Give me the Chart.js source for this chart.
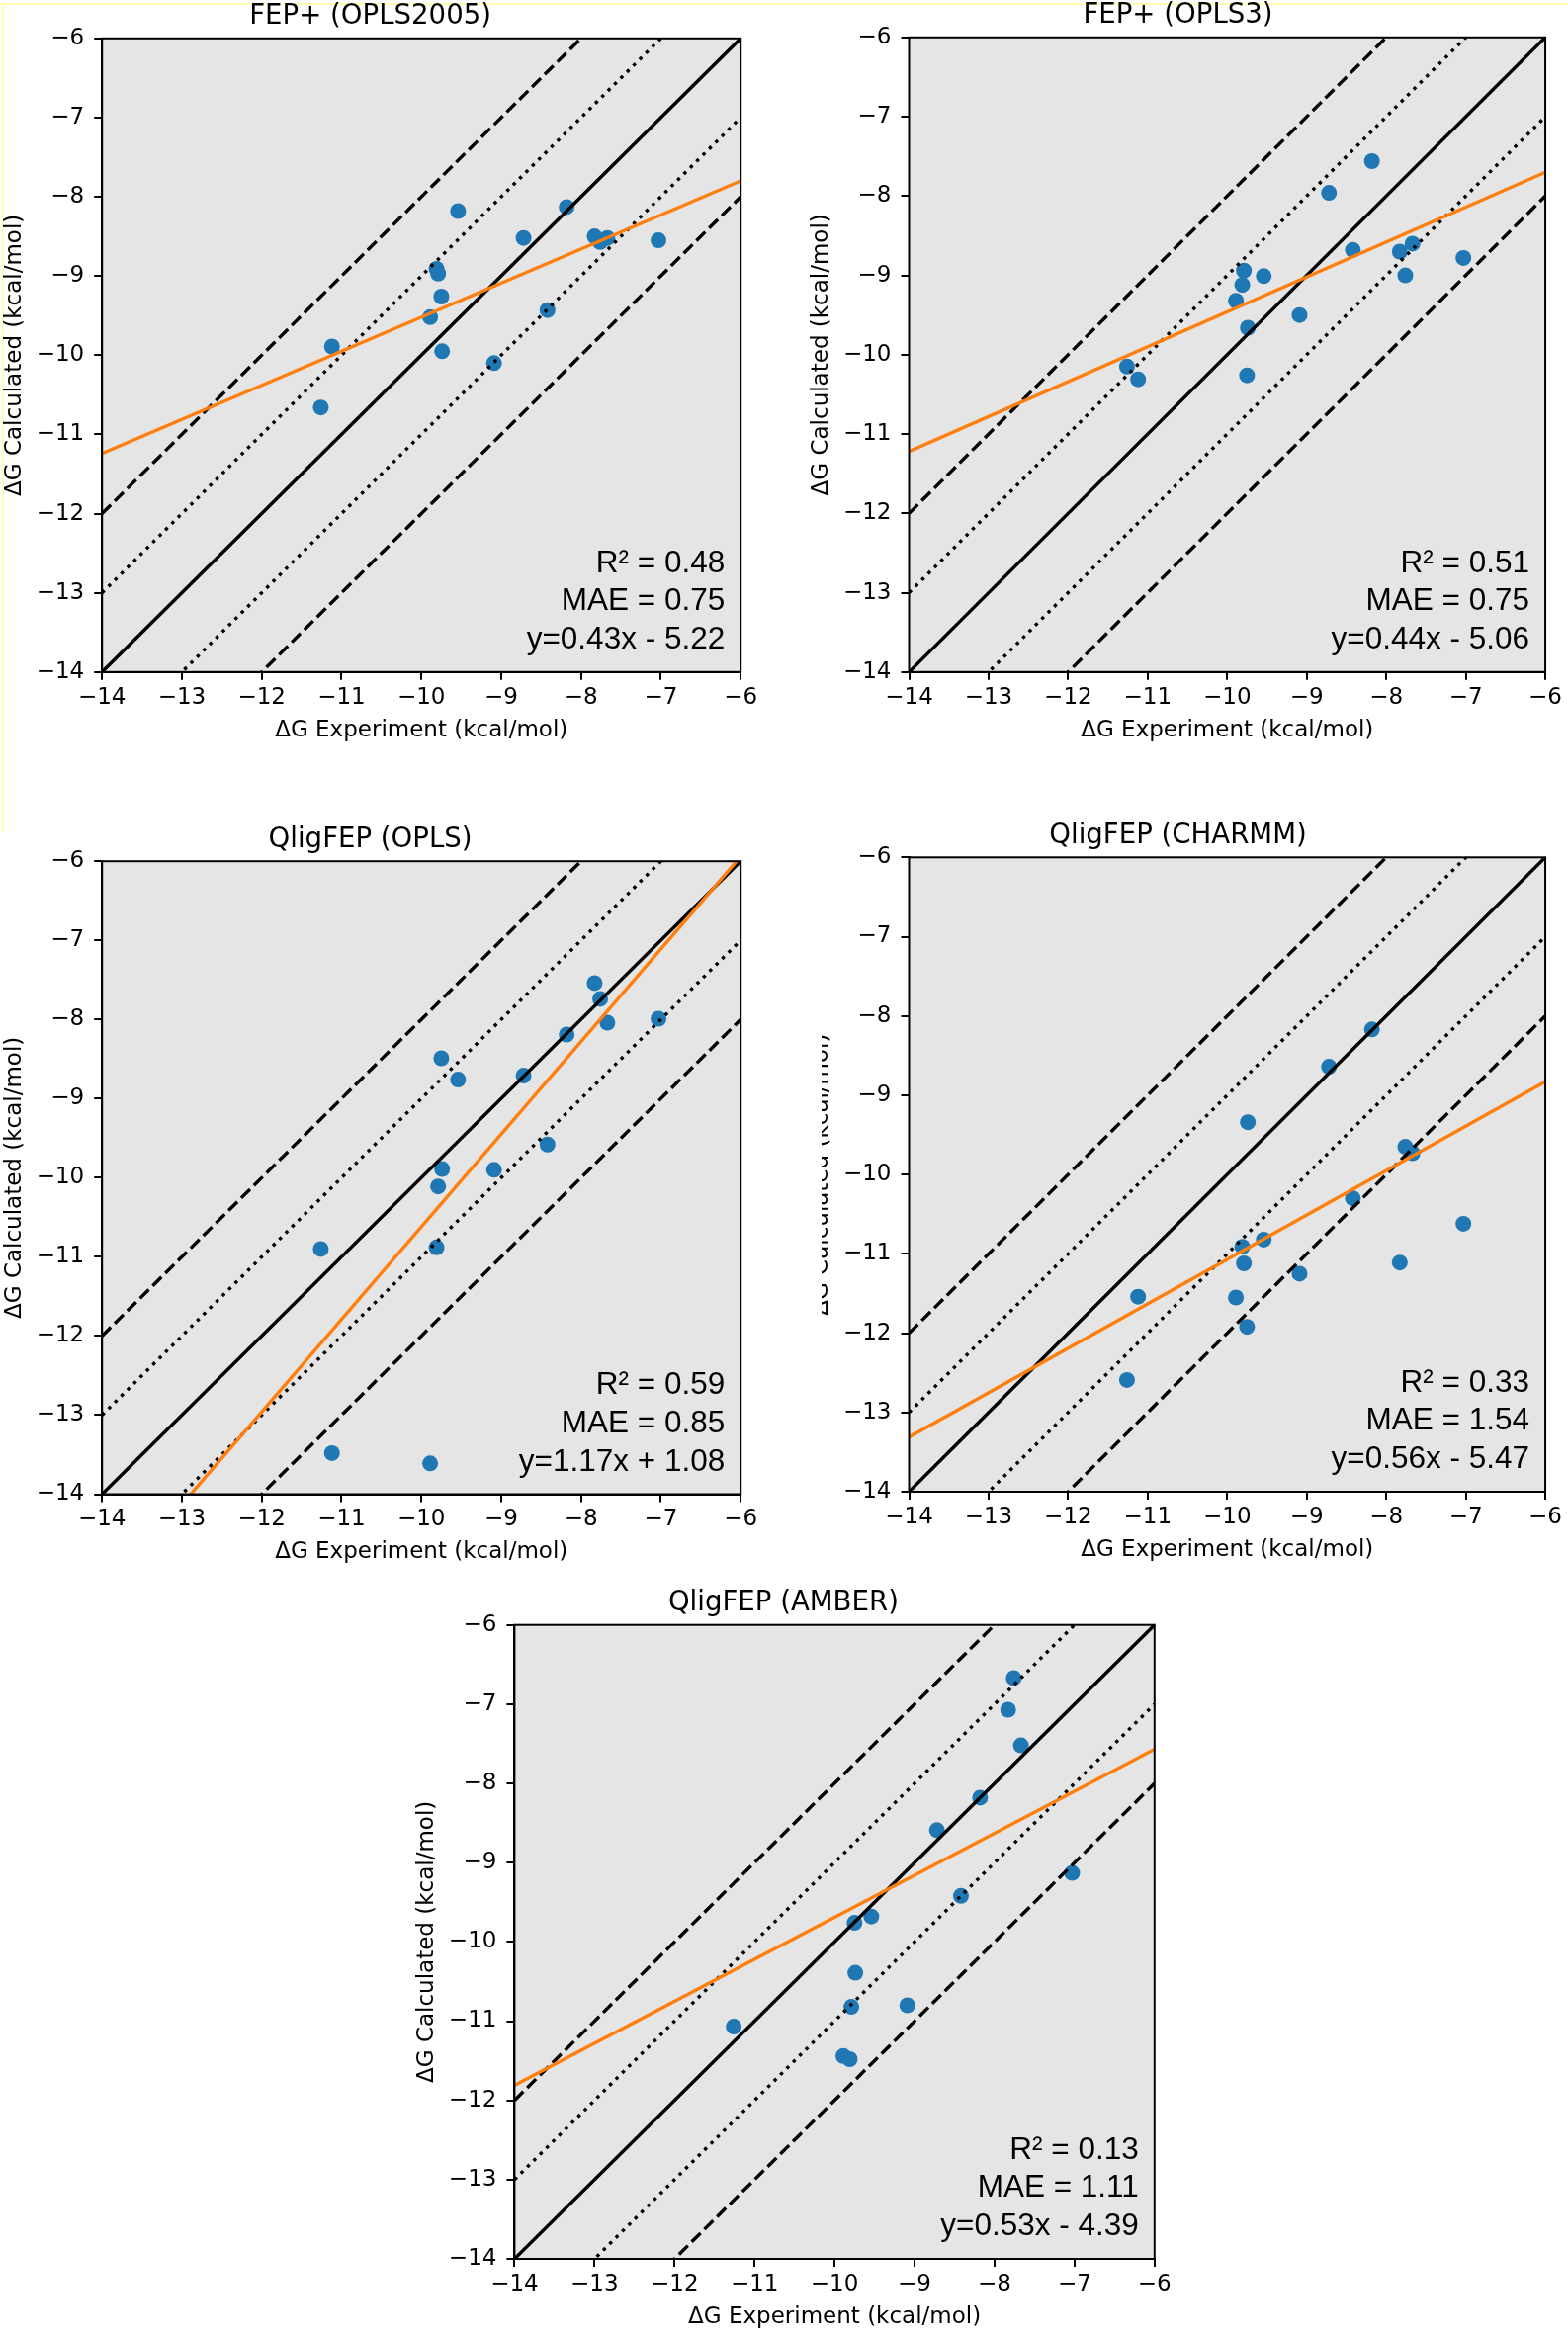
<!DOCTYPE html>
<html>
<head>
<meta charset="utf-8">
<script src="https://cdn.jsdelivr.net/npm/chart.js@4.4.0/dist/chart.umd.min.js"></script>
<style>
  html, body { margin: 0; padding: 0; background: #fff; }
  body { position: relative; width: 1586px; height: 2362px; overflow: hidden; }
  canvas { position: absolute; }
  .edge { position: absolute; background: #ffffb0; }
</style>
</head>
<body>
<div class="edge" style="left:0;top:3px;width:1586px;height:2px"></div>
<div class="edge" style="left:2px;top:3px;width:2px;height:840px"></div>
<script>
// Experimental dG (kcal/mol), same ligand order in every panel
const expDG = [-11.26, -11.12, -9.89, -9.81, -9.79, -9.75, -9.74, -9.54, -9.09, -8.72, -8.42, -8.18, -7.83, -7.76, -7.67, -7.03];

// Calculated dG per method (null = not shown)
const calcOPLS2005 = [-10.66, -9.89, -9.52, -8.91, -8.97, -9.26, -9.95, -8.18, -10.10, -8.52, -9.43, -8.13, -8.50, -8.57, -8.52, -8.55];
const calcOPLS3    = [-10.15, -10.31, -9.32, -9.12, -8.94, -10.26, -9.66, -9.01, -9.50, -7.96, -8.68, -7.56, -8.70, -9.00, -8.60, -8.78];
const calcQOPLS    = [-10.90, -13.48, -13.61, -10.88, -10.11, -8.49, -9.89, -8.76, -9.90, -8.71, -9.58, -8.19, -7.54, -7.74, -8.04, -7.99];
const calcQCHARMM  = [-12.59, -11.54, -11.55, -10.91, -11.12, -11.92, -9.34, -10.82, -11.25, -8.64, -10.30, -8.17, -11.11, -9.65, -9.73, -10.62];
const calcQAMBER   = [-11.07, null, -11.44, -11.48, -10.82, -9.76, -10.39, -9.68, -10.80, -8.59, -9.42, -8.18, -7.07, -6.67, -7.52, -9.13];

const panelTitles = ['FEP+ (OPLS2005)', 'FEP+ (OPLS3)', 'QligFEP (OPLS)', 'QligFEP (CHARMM)', 'QligFEP (AMBER)'];
const r2Values = [0.48, 0.51, 0.59, 0.33, 0.13];
const maeValues = [0.75, 0.75, 0.85, 1.54, 1.11];
const fitSlopes = [0.43, 0.44, 1.17, 0.56, 0.53];
const fitIntercepts = [-5.22, -5.06, 1.08, -5.47, -4.39];

const axisTicks = [-14, -13, -12, -11, -10, -9, -8, -7, -6];
const axisMin = -14, axisMax = -6;
// y = x + offset reference lines: solid, dotted (+-1), dashed (+-2)
const diagOffsets = [0, 1, -1, 2, -2];

const calcSets = [calcOPLS2005, calcOPLS3, calcQOPLS, calcQCHARMM, calcQAMBER];

// plot rectangles on the page
const plotRects = [
    { left: 103.2, top: 38.8, w: 646, h: 641, rightPad: 30 },
    { left: 919.5, top: 37.8, w: 646.5, h: 642, rightPad: 18 },
    { left: 103.2, top: 871.2, w: 646, h: 640.3, rightPad: 30 },
    { left: 919.5, top: 867.3, w: 646.5, h: 641.7, rightPad: 18, hideLabelBefore: 831 },
    { left: 520.4, top: 1643.7, w: 647.4, h: 641.3, rightPad: 30 }
];

const FONT = "'DejaVu Sans', sans-serif";
Chart.defaults.font.family = FONT;
Chart.defaults.color = '#000';

const LW = 3.4;
const minusFmt = v => (v < 0 ? '\u2212' + Math.abs(v) : String(v));

// grey plot background + black frame + stats text
const frameBg = {
    id: 'frameBg',
    beforeDatasetsDraw(chart) {
        const { ctx, chartArea: a } = chart;
        ctx.save();
        ctx.fillStyle = '#e5e5e5';
        ctx.fillRect(a.left, a.top, a.right - a.left, a.bottom - a.top);
        ctx.restore();
    },
    afterDraw(chart) {
        const { ctx, chartArea: a } = chart;
        const o = chart.options.plugins.frameBg || {};
        ctx.save();
        ctx.strokeStyle = '#000';
        ctx.lineWidth = 2;
        ctx.strokeRect(a.left, a.top, a.right - a.left, a.bottom - a.top);
        ctx.fillStyle = '#000';
        ctx.font = "31.5px 'Liberation Sans', Arial, sans-serif";
        ctx.textAlign = 'right';
        ctx.textBaseline = 'alphabetic';
        const x = a.right - 16;
        (o.lines || []).forEach((t, i, arr) => {
            ctx.fillText(t, x, a.bottom - 24 - (arr.length - 1 - i) * 38.6);
        });
        // part of the y label is covered by the neighbouring panel
        if (o.hideLabelBefore) {
            ctx.fillStyle = '#fff';
            ctx.fillRect(0, 0, o.hideLabelBefore, chart.height);
        }
        ctx.restore();
    }
};

function buildPanel(i) {
    const r = plotRects[i];
    const cLeft = Math.round(r.left - 103);
    const yW = r.left - cLeft;
    const cTop = Math.round(r.top - 39.6);
    const titleLH = 27.6 * 1.2;
    const titlePadTop = 1.5;
    const titlePadBottom = (r.top - cTop) - titleLH - titlePadTop;
    const cW = Math.round(r.left + r.w + r.rightPad) - cLeft;
    const padRight = cLeft + cW - (r.left + r.w);
    const cH = Math.round(r.top + r.h + 72.8) - cTop;
    const xH = cTop + cH - (r.top + r.h);

    const canvas = document.createElement('canvas');
    canvas.width = cW;
    canvas.height = cH;
    canvas.style.left = cLeft + 'px';
    canvas.style.top = cTop + 'px';
    document.body.appendChild(canvas);

    const calc = calcSets[i];
    const points = expDG.map((x, k) => ({ x: x, y: calc[k] })).filter(p => p.y !== null);

    const m = fitSlopes[i], b = fitIntercepts[i];
    const eq = 'y=' + m.toFixed(2) + 'x ' + (b < 0 ? '- ' : '+ ') + Math.abs(b).toFixed(2);

    const datasets = [];
    diagOffsets.forEach(off => {
        const dash = off === 0 ? [] : (Math.abs(off) === 1 ? [LW, LW * 1.65] : [LW * 3.7, LW * 1.6]);
        datasets.push({
            data: [{ x: axisMin, y: axisMin + off }, { x: axisMax, y: axisMax + off }],
            showLine: true, borderColor: '#000', borderWidth: LW, borderDash: dash,
            pointRadius: 0, clip: 0, order: 2
        });
    });
    datasets.push({
        data: [{ x: axisMin, y: m * axisMin + b }, { x: axisMax, y: m * axisMax + b }],
        showLine: true, borderColor: '#ff7f0e', borderWidth: LW,
        pointRadius: 0, clip: 0, order: 1
    });
    datasets.push({
        data: points, backgroundColor: '#1f77b4', borderWidth: 0,
        pointRadius: 8, clip: 0, order: 10
    });

    const axis = (title, isX) => ({
        type: 'linear',
        min: axisMin, max: axisMax,
        afterBuildTicks: s => { s.ticks = axisTicks.map(v => ({ value: v })); },
        afterFit: s => { if (isX) s.height = xH; else s.width = yW; },
        grid: { display: true, drawOnChartArea: false, drawTicks: true, tickLength: 8, color: '#000', lineWidth: 2 },
        border: { display: true, color: '#000', width: 2 },
        ticks: {
            callback: minusFmt, autoSkip: false, maxRotation: 0, color: '#000',
            font: { family: FONT, size: 23 }, padding: isX ? 4 : 10
        },
        title: {
            display: true, text: title, color: '#000',
            font: { family: FONT, size: 23 },
            padding: isX ? { top: 0, bottom: xH - 72.8 } : { top: yW - 102.3, bottom: 0 }
        }
    });

    new Chart(canvas, {
        type: 'scatter',
        data: { datasets: datasets },
        options: {
            responsive: false,
            animation: false,
            layout: { padding: { left: 0, top: 0, bottom: 0, right: padRight } },
            scales: {
                x: axis('\u0394G Experiment (kcal/mol)', true),
                y: axis('\u0394G Calculated (kcal/mol)', false)
            },
            plugins: {
                legend: { display: false },
                tooltip: { enabled: false },
                title: {
                    display: true, text: panelTitles[i], color: '#000',
                    font: { family: FONT, size: 27.6, weight: 'normal' },
                    padding: { top: titlePadTop, bottom: titlePadBottom }
                },
                frameBg: {
                    lines: ['R\u00b2 = ' + r2Values[i].toFixed(2), 'MAE = ' + maeValues[i].toFixed(2), eq],
                    hideLabelBefore: r.hideLabelBefore ? r.hideLabelBefore - cLeft : 0
                }
            }
        },
        plugins: [frameBg]
    });
}

panelTitles.forEach((t, i) => buildPanel(i));
</script>
</body>
</html>
